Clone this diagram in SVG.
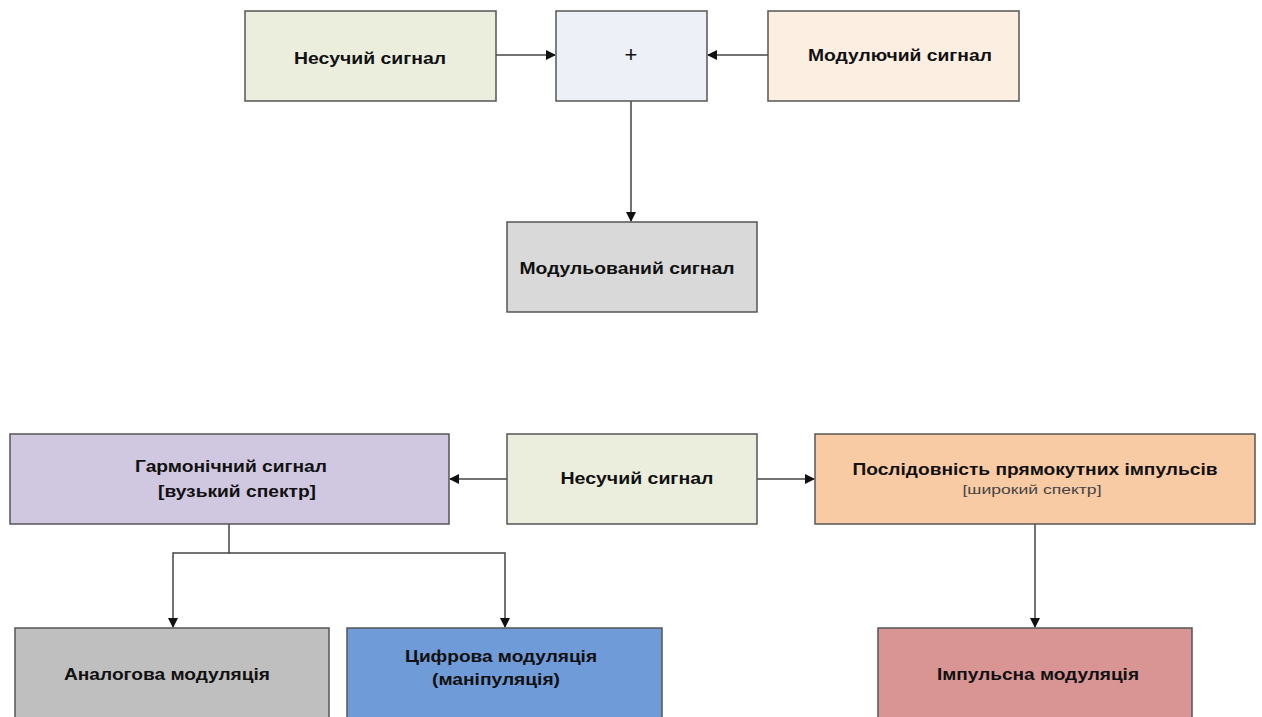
<svg xmlns="http://www.w3.org/2000/svg" width="1262" height="717" viewBox="0 0 1262 717">
<style>
.box{stroke:#555;stroke-width:1.5}
.t{font-family:"Liberation Sans",Arial,sans-serif;font-weight:bold;font-size:16px;fill:#111;text-anchor:middle}
.s{font-family:"Liberation Sans",Arial,sans-serif;font-size:12px;fill:#444;text-anchor:middle}
.c{fill:none;stroke:#444;stroke-width:1.5}
</style>
<defs>
<marker id="ah" markerWidth="10" markerHeight="10" refX="9" refY="5" orient="auto" markerUnits="userSpaceOnUse">
<path d="M0,0 L10,5 L0,10 Z" fill="#111"/>
</marker>
</defs>
<rect width="1262" height="717" fill="#fff"/>
<g id="connectors">
<line class="c" x1="496" y1="55" x2="555" y2="55" marker-end="url(#ah)"/>
<line class="c" x1="768" y1="55" x2="708" y2="55" marker-end="url(#ah)"/>
<line class="c" x1="631" y1="101" x2="631" y2="221" marker-end="url(#ah)"/>
<line class="c" x1="507" y1="479" x2="450" y2="479" marker-end="url(#ah)"/>
<line class="c" x1="757" y1="479" x2="814" y2="479" marker-end="url(#ah)"/>
<polyline class="c" points="229,524 229,553 173,553 173,627" marker-end="url(#ah)"/>
<polyline class="c" points="229,553 505,553 505,627" marker-end="url(#ah)"/>
<line class="c" x1="1035" y1="524" x2="1035" y2="627" marker-end="url(#ah)"/>
</g>
<g id="carrier1"><rect class="box" x="245" y="11" width="251" height="90" fill="#EBEEDD"/><text class="t" x="370" y="64" textLength="152" lengthAdjust="spacingAndGlyphs">Несучий сигнал</text></g>
<g id="sum"><rect class="box" x="556" y="11" width="151" height="90" fill="#EDF0F6"/><text class="t" x="631" y="62" style="font-size:22px;font-weight:normal">+</text></g>
<g id="modulating"><rect class="box" x="768" y="11" width="251" height="90" fill="#FDEEE2"/><text class="t" x="900" y="61" textLength="184" lengthAdjust="spacingAndGlyphs">Модулючий сигнал</text></g>
<g id="modulated"><rect class="box" x="507" y="222" width="250" height="90" fill="#D9D9D9"/><text class="t" x="627" y="274" textLength="215" lengthAdjust="spacingAndGlyphs">Модульований сигнал</text></g>
<g id="harmonic"><rect class="box" x="10" y="434" width="439" height="90" fill="#D0C8E0"/><text class="t" x="231" y="472" textLength="192" lengthAdjust="spacingAndGlyphs">Гармонічний сигнал</text><text class="t" x="237" y="497" textLength="158" lengthAdjust="spacingAndGlyphs">[вузький спектр]</text></g>
<g id="carrier2"><rect class="box" x="507" y="434" width="250" height="90" fill="#EBEEDD"/><text class="t" x="637" y="484" textLength="153" lengthAdjust="spacingAndGlyphs">Несучий сигнал</text></g>
<g id="pulses"><rect class="box" x="815" y="434" width="440" height="90" fill="#F9CBA5"/><text class="t" x="1035" y="475" textLength="365" lengthAdjust="spacingAndGlyphs">Послідовність прямокутних імпульсів</text><text class="s" x="1032" y="494" textLength="139" lengthAdjust="spacingAndGlyphs">[широкий спектр]</text></g>
<g id="analog"><rect class="box" x="15" y="628" width="314" height="100" fill="#BFBFBF"/><text class="t" x="167" y="680" textLength="206" lengthAdjust="spacingAndGlyphs">Аналогова модуляція</text></g>
<g id="digital"><rect class="box" x="347" y="628" width="315" height="100" fill="#6F9BD8"/><text class="t" x="501" y="662" textLength="192" lengthAdjust="spacingAndGlyphs">Цифрова модуляція</text><text class="t" x="496" y="685" textLength="128" lengthAdjust="spacingAndGlyphs">(маніпуляція)</text></g>
<g id="pulsemod"><rect class="box" x="878" y="628" width="314" height="100" fill="#D99594"/><text class="t" x="1038" y="680" textLength="202" lengthAdjust="spacingAndGlyphs">Імпульсна модуляція</text></g>
</svg>
